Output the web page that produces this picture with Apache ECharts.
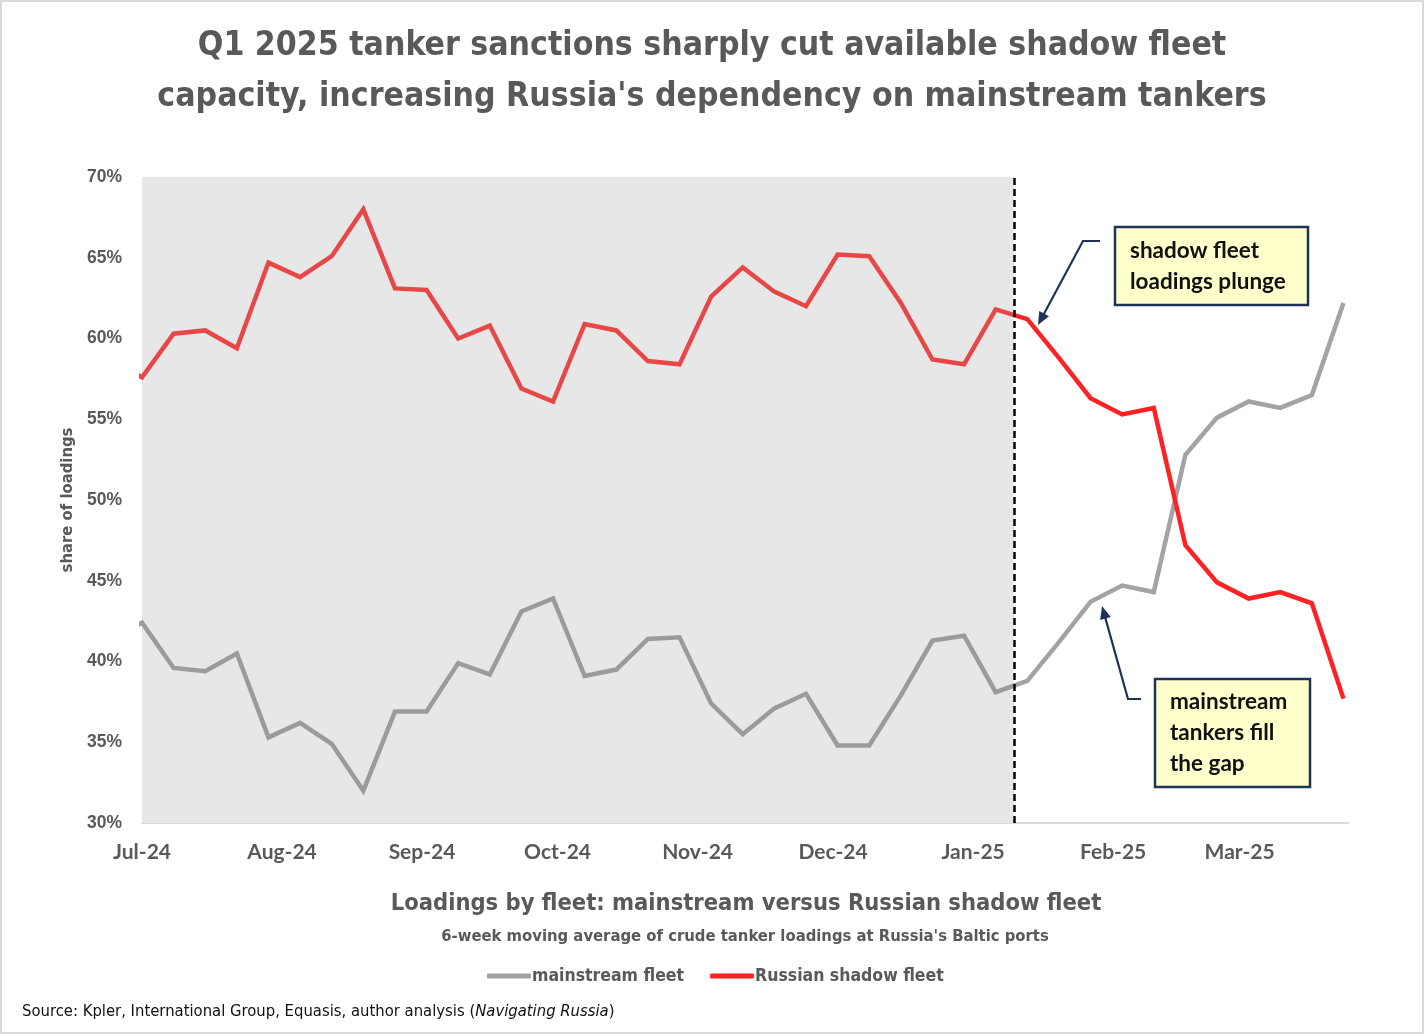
<!DOCTYPE html>
<html>
<head>
<meta charset="utf-8">
<title>Loadings by fleet</title>
<script src="https://cdn.jsdelivr.net/npm/echarts@6/dist/echarts.min.js"></script>
<style>
  html, body { margin: 0; padding: 0; background: #fff; }
  #main { width: 1424px; height: 1034px; }
</style>
</head>
<body>
<div id="main"></div>
<script>
// weekly points (6-week moving average), share of loadings in %
const weeks = [
  '2024-06-24', '2024-07-01', '2024-07-08', '2024-07-15', '2024-07-22', '2024-07-29',
  '2024-08-05', '2024-08-12', '2024-08-19', '2024-08-26',
  '2024-09-02', '2024-09-09', '2024-09-16', '2024-09-23', '2024-09-30',
  '2024-10-07', '2024-10-14', '2024-10-21', '2024-10-28',
  '2024-11-04', '2024-11-11', '2024-11-18', '2024-11-25',
  '2024-12-02', '2024-12-09', '2024-12-16', '2024-12-23', '2024-12-30',
  '2025-01-06', '2025-01-13', '2025-01-20', '2025-01-27',
  '2025-02-03', '2025-02-10', '2025-02-17', '2025-02-24',
  '2025-03-03', '2025-03-10', '2025-03-17', '2025-03-24'
]
const mainstream = [
  41.4, 42.4, 39.6, 39.4, 40.5, 35.3, 36.2, 34.9, 32.0, 36.9,
  36.9, 39.9, 39.2, 43.1, 43.9, 39.1, 39.5, 41.4, 41.5, 37.4,
  35.5, 37.1, 38.0, 34.8, 34.8, 37.9, 41.3, 41.6, 38.1, 38.8,
  41.2, 43.7, 44.7, 44.3, 52.8, 55.1, 56.1, 55.7, 56.5, 62.2
]
const shadow = [
  58.6, 57.6, 60.3, 60.5, 59.4, 64.7, 63.8, 65.1, 68.0, 63.1,
  63.0, 60.0, 60.8, 56.9, 56.1, 60.9, 60.5, 58.6, 58.4, 62.6,
  64.4, 62.9, 62.0, 65.2, 65.1, 62.2, 58.7, 58.4, 61.8, 61.2,
  58.8, 56.3, 55.3, 55.7, 47.2, 44.9, 43.9, 44.3, 43.6, 37.7
]
const monthTicks = ['2024-07-01', '2024-08-01', '2024-09-01', '2024-10-01', '2024-11-01',
  '2024-12-01', '2025-01-01', '2025-02-01', '2025-03-01']
const monthLabels = ['Jul-24', 'Aug-24', 'Sep-24', 'Oct-24', 'Nov-24', 'Dec-24', 'Jan-25', 'Feb-25', 'Mar-25']
const axisStart = '2024-07-01'
const axisEnd = '2025-03-25'
const sanctionDate = '2025-01-10'

const t = d => +echarts.time.parse(d)
const tickTimes = monthTicks.map(t)
const cut = t(sanctionDate)

const GREY_TXT = '#595959'
const NAVY = '#1f3358'
const NARROW = "'Liberation Sans Narrow', 'DejaVu Sans Condensed', sans-serif"
const BOLD = "Lato, 'Open Sans', sans-serif"

const chart = echarts.init(document.getElementById('main'), null, { renderer: 'canvas' })

// annotation box: rect + text lines
const noteBox = (x, y, w, h, lines) => ({
  type: 'group',
  z: 100,
  children: [
    {
      type: 'rect',
      shape: { x: x, y: y, width: w, height: h },
      style: { fill: '#ffffcc', stroke: NAVY, lineWidth: 2.5 }
    },
    {
      type: 'text',
      x: x + 15,
      y: y + h / 2,
      style: {
        text: lines.join('\n'),
        font: 'bold 22.5px ' + BOLD,
        fill: '#111',
        lineHeight: 31,
        verticalAlign: 'middle'
      }
    }
  ]
})

// elbow arrow, last point is the tip
const arrow = pts => {
  const [x1, y1] = pts[pts.length - 2]
  const [x2, y2] = pts[pts.length - 1]
  const a = Math.atan2(y2 - y1, x2 - x1)
  const len = 13, half = 5.5
  const bx = x2 - len * Math.cos(a), by = y2 - len * Math.sin(a)
  const line = pts.slice()
  line[line.length - 1] = [bx + 2 * Math.cos(a), by + 2 * Math.sin(a)]
  return {
    type: 'group',
    z: 100,
    children: [
      { type: 'polyline', shape: { points: line }, style: { stroke: NAVY, lineWidth: 2.2, fill: null } },
      {
        type: 'polygon',
        shape: { points: [[x2, y2],
          [bx + half * Math.sin(a), by - half * Math.cos(a)],
          [bx - half * Math.sin(a), by + half * Math.cos(a)]] },
        style: { fill: NAVY }
      }
    ]
  }
}

const option = {
  backgroundColor: '#fff',
  animation: false,
  title: {
    text: "Q1 2025 tanker sanctions sharply cut available shadow fleet\ncapacity, increasing Russia's dependency on mainstream tankers",
    left: 'center',
    top: 16,
    textStyle: {
      fontFamily: NARROW,
      fontSize: 33.5,
      fontWeight: 'bold',
      color: GREY_TXT,
      lineHeight: 51,
      align: 'center'
    }
  },
  grid: { left: 142, right: 76, top: 177, bottom: 211 },
  xAxis: {
    type: 'value',
    min: t(axisStart),
    max: t(axisEnd),
    axisLine: { show: true, lineStyle: { color: '#d9d9d9', width: 2 } },
    axisTick: { show: false },
    splitLine: { show: false },
    axisLabel: {
      customValues: tickTimes,
      margin: 19,
      showMinLabel: true,
      fontFamily: BOLD,
      fontWeight: 'bold',
      fontSize: 21,
      color: GREY_TXT,
      formatter: v => {
        const i = tickTimes.indexOf(+v)
        return i >= 0 ? monthLabels[i] : ''
      }
    }
  },
  yAxis: {
    type: 'value',
    min: 30,
    max: 70,
    interval: 5,
    name: 'share of loadings',
    nameLocation: 'middle',
    nameRotate: 90,
    nameGap: 64,
    nameTextStyle: { fontFamily: NARROW, fontSize: 16.5, fontWeight: 'bold', color: GREY_TXT },
    axisLine: { show: false },
    axisTick: { show: false },
    splitLine: { show: false },
    axisLabel: {
      formatter: '{value}%',
      margin: 20,
      fontFamily: "'Liberation Sans', Arial, sans-serif",
      fontWeight: 'bold',
      fontSize: 17.5,
      color: GREY_TXT
    }
  },
  legend: {
    bottom: 44,
    left: 482,
    itemWidth: 44,
    itemHeight: 5,
    itemGap: 26,
    icon: 'roundRect',
    textStyle: { fontFamily: NARROW, fontSize: 17.5, fontWeight: 'bold', color: GREY_TXT, padding: [0, 0, 0, -4] },
    data: [
      { name: 'mainstream fleet', itemStyle: { color: '#a0a0a0' } },
      { name: 'Russian shadow fleet', itemStyle: { color: '#ff2222' } }
    ]
  },
  series: [
    {
      name: 'shade',
      type: 'line',
      z: 1,
      data: [],
      silent: true,
      markArea: {
        silent: true,
        itemStyle: { color: '#e7e7e7' },
        data: [[{ xAxis: t(axisStart), yAxis: 70 }, { xAxis: cut, yAxis: 30 }]]
      }
    },
    {
      name: 'mainstream fleet',
      type: 'line',
      z: 3,
      showSymbol: false,
      data: weeks.map((d, i) => [t(d), mainstream[i]]),
      lineStyle: { width: 4.5, join: 'miter', color: '#a0a0a0' },
      itemStyle: { color: '#a0a0a0' }
    },
    {
      name: 'Russian shadow fleet',
      type: 'line',
      z: 4,
      showSymbol: false,
      data: weeks.map((d, i) => [t(d), shadow[i]]),
      lineStyle: { width: 4.5, join: 'miter', color: '#ff2222' },
      itemStyle: { color: '#ff2222' },
      markLine: {
        silent: true,
        symbol: 'none',
        label: { show: false },
        lineStyle: { color: '#000', width: 2.5, type: [7, 4] },
        data: [{ xAxis: cut }]
      }
    }
  ],
  graphic: [
    {
      type: 'rect',
      shape: { x: 1, y: 1, width: 1422, height: 1032 },
      style: { fill: null, stroke: '#d9d9d9', lineWidth: 2 },
      z: 200
    },
    {
      type: 'text',
      x: 746,
      y: 892,
      style: {
        text: 'Loadings by fleet: mainstream versus Russian shadow fleet',
        font: 'bold 23.5px ' + NARROW,
        fill: GREY_TXT,
        align: 'center'
      }
    },
    {
      type: 'text',
      x: 745,
      y: 928,
      style: {
        text: "6-week moving average of crude tanker loadings at Russia's Baltic ports",
        font: 'bold 16.5px ' + NARROW,
        fill: GREY_TXT,
        align: 'center'
      }
    },
    {
      type: 'text',
      left: 22,
      top: 1003,
      style: {
        text: 'Source: Kpler, International Group, Equasis, author analysis ({i|Navigating Russia})',
        font: '16.5px ' + NARROW,
        fill: '#111',
        rich: { i: { fontStyle: 'italic', fontFamily: NARROW, fontSize: 16.5, fill: '#111' } }
      }
    },
    noteBox(1115, 227, 193, 78, ['shadow fleet', 'loadings plunge']),
    noteBox(698, 485, 204, 78, ["OFAC Jan. '25", 'jumbo sanctions']),
    noteBox(1155, 679, 155, 108, ['mainstream', 'tankers fill', 'the gap']),
    arrow([[1100, 241], [1083, 241], [1038, 325]]),
    arrow([[918, 500], [936, 500], [1009, 453]]),
    arrow([[1141, 699], [1128, 699], [1102, 606]])
  ]
}

chart.setOption(option)

// lines are a little paler inside the shaded (pre-sanction) period
const cutPx = chart.convertToPixel({ xAxisIndex: 0 }, cut)
const split = (left, right) => new echarts.graphic.LinearGradient(0, 0, cutPx * 2, 0, [
  { offset: 0, color: left }, { offset: 0.5, color: left },
  { offset: 0.5, color: right }, { offset: 1, color: right }
], true)
chart.setOption({
  series: [
    {},
    { lineStyle: { color: split('#9b9b9b', '#a3a3a3') } },
    { lineStyle: { color: split('#e84747', '#ff2222') } }
  ]
})
</script>
</body>
</html>
